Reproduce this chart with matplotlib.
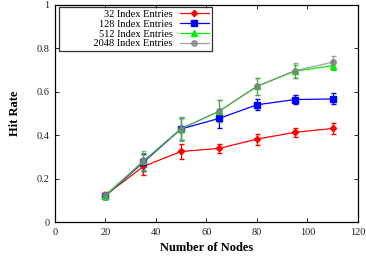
import matplotlib
matplotlib.use("Agg")
import matplotlib.pyplot as plt

nodes = [20, 35, 50, 65, 80, 95, 110]

hit_32 = [0.123, 0.256, 0.325, 0.339, 0.382, 0.413, 0.431]
err_32 = [0.015, 0.04, 0.035, 0.022, 0.025, 0.02, 0.025]

hit_128 = [0.12, 0.275, 0.429, 0.477, 0.54, 0.564, 0.567]
err_128 = [0.015, 0.04, 0.05, 0.045, 0.025, 0.02, 0.025]

hit_512 = [0.12, 0.28, 0.43, 0.51, 0.625, 0.695, 0.72]
err_512 = [0.015, 0.04, 0.05, 0.05, 0.04, 0.03, 0.02]

hit_2048 = [0.125, 0.28, 0.43, 0.51, 0.625, 0.697, 0.736]
err_2048 = [0.015, 0.045, 0.055, 0.05, 0.04, 0.035, 0.03]

labels = ["32 Index Entries", "128 Index Entries", "512 Index Entries", "2048 Index Entries"]

plt.rcParams['font.family'] = ['Liberation Serif', 'DejaVu Serif']

fig = plt.figure(figsize=(3.66, 2.57), dpi=100)
ax = fig.add_axes([0.150, 0.136, 0.828, 0.845])

conts = []
conts.append(ax.errorbar(nodes, hit_32, yerr=err_32, color='#ff0000', marker='D', ms=3.2,
                         lw=0.9, elinewidth=0.9, capsize=1.8))
conts.append(ax.errorbar(nodes, hit_128, yerr=err_128, color='#0000ff', marker='s', ms=4,
                         lw=0.9, elinewidth=0.9, capsize=1.8))
conts.append(ax.errorbar(nodes, hit_512, yerr=err_512, color='#00ee00', marker='^', ms=3.8,
                         lw=0.9, elinewidth=0.9, capsize=1.8))
conts.append(ax.errorbar(nodes, hit_2048, yerr=err_2048, color='#808080', marker='o', ms=4,
                         lw=0.9, elinewidth=0.9, capsize=1.8, alpha=0.75))

ax.set_xlim(0, 120)
ax.set_ylim(0, 1)
ax.set_xticks([0, 20, 40, 60, 80, 100, 120])
ax.set_yticks([0, 0.2, 0.4, 0.6, 0.8, 1])
ax.set_yticklabels(["0", "0.2", "0.4", "0.6", "0.8", "1"])
ax.tick_params(direction='in', top=True, right=True, length=3, width=0.7,
               labelsize=7.5, colors='#222222', pad=4)
for s in ax.spines.values():
    s.set_linewidth(0.9)

ax.set_xlabel("Number of Nodes", fontsize=9, fontweight='bold', labelpad=4)
ax.set_ylabel("Hit Rate", fontsize=9, fontweight='bold', labelpad=11)

# gnuplot-style key: wide box, text right-aligned, sample on the right
leg_labels = list(labels)
leg_labels[3] = " " * 12 + leg_labels[3]
leg = ax.legend([c[0] for c in conts], leg_labels, loc='upper left',
                bbox_to_anchor=(0.015, 0.99), markerfirst=False,
                fontsize=7.5, frameon=True, fancybox=False, handlelength=2.8,
                labelspacing=0.05, borderpad=0.25, handletextpad=0.7,
                borderaxespad=0)
leg.get_frame().set_edgecolor('black')
leg.get_frame().set_linewidth(0.9)
for col in leg._legend_handle_box.get_children():
    col.align = "right"

fig.savefig("out.png", dpi=100)
